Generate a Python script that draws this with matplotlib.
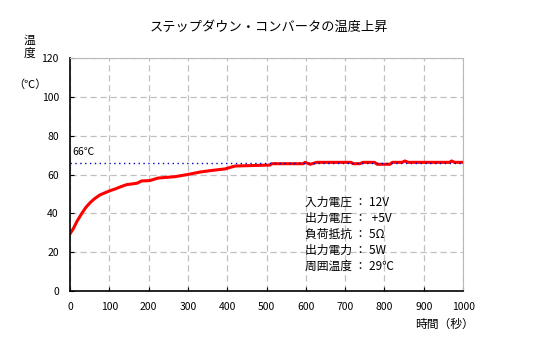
import matplotlib
matplotlib.use("Agg")
import matplotlib.pyplot as plt

plt.rcParams['font.family'] = ['Noto Sans CJK JP', 'DejaVu Sans']

time_s = [0, 8, 18, 30, 40, 51, 62, 76, 90, 102, 115, 130, 144, 170, 182, 203,
          224, 267, 301, 331, 356, 394, 420, 509, 513, 593, 598, 611, 628,
          715, 720, 738, 745, 775, 781, 814, 820, 845, 852, 860, 965, 971,
          978, 1000]
temp_c = [29.5, 32, 36, 40, 43, 45.5, 47.5, 49.5, 50.7, 51.7, 52.6, 53.8, 54.8,
          55.5, 56.7, 56.9, 58.2, 58.9, 60.1, 61.3, 62.0, 62.9, 64.4, 64.9,
          65.6, 65.6, 66.3, 65.3, 66.3, 66.3, 65.6, 65.6, 66.3, 66.3, 65.3,
          65.3, 66.3, 66.3, 67.0, 66.3, 66.3, 67.0, 66.3, 66.3]

max_temp = 66
spec_lines = ['入力電圧 ： 12V', '出力電圧 ：  +5V', '負荷抵抗 ： 5Ω',
              '出力電力 ： 5W', '周囲温度 ： 29℃']
xticks = list(range(0, 1001, 100))
yticks = list(range(0, 121, 20))

fig = plt.figure(figsize=(5.37, 3.46), dpi=100)
ax = fig.add_axes([0.1304, 0.159, 0.732, 0.673])

ax.plot(time_s, temp_c, color='red', lw=2.2)
ax.axhline(max_temp, color='#0000c0', lw=1, ls=(0, (1, 2.5)))
ax.text(5, max_temp + 4, '66℃', fontsize=7.5)

ax.set_xlim(0, 1000)
ax.set_ylim(0, 120)
ax.set_xticks(xticks)
ax.set_yticks(yticks)
ax.tick_params(direction='in', labelsize=7.5, length=3, pad=8)
ax.grid(True, ls=(0, (5, 3)), color='#c0c0c0', lw=0.9)
for s in ['top', 'right']:
    ax.spines[s].set_color('#b8b8b8')
for s in ['left', 'bottom']:
    ax.spines[s].set_linewidth(1.2)

ax.text(0.598, 0.41, '\n'.join(spec_lines), transform=ax.transAxes,
        fontsize=8.5, va='top', linespacing=1.3)

fig.text(0.5, 0.922, 'ステップダウン・コンバータの温度上昇', ha='center',
         va='center', fontsize=9.5)
fig.text(0.055, 0.835, '温\n度', ha='center', fontsize=8.5, linespacing=1.0)
fig.text(0.055, 0.745, '（℃）', ha='center', fontsize=8)
fig.text(0.828, 0.052, '時間（秒）', ha='center', fontsize=8.5)

fig.savefig('out.png', dpi=100)
